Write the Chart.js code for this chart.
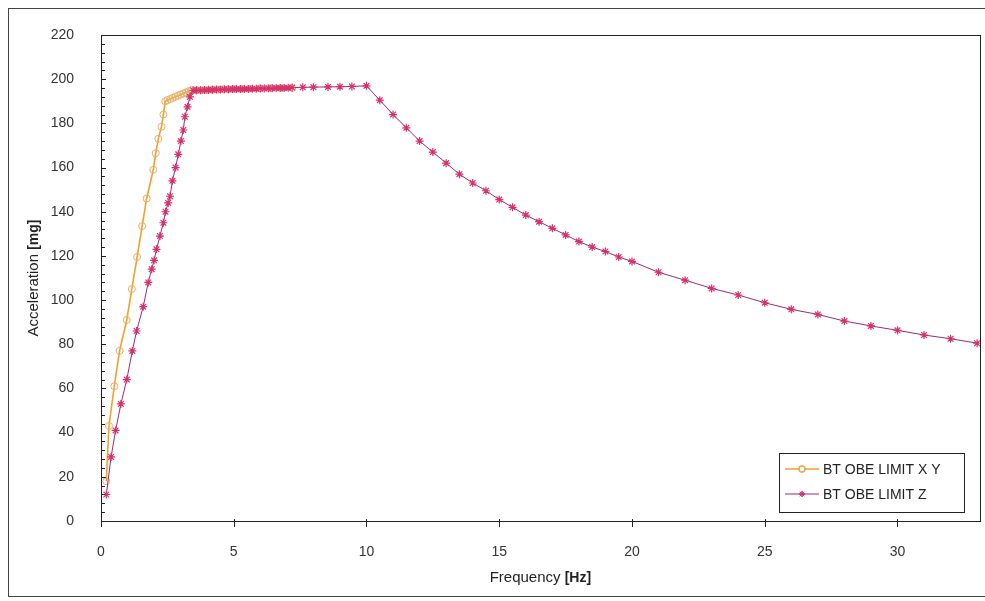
<!DOCTYPE html>
<html>
<head>
<meta charset="utf-8">
<script src="https://cdn.jsdelivr.net/npm/chart.js@4.4.1/dist/chart.umd.min.js"></script>
<style>
  html, body { margin: 0; padding: 0; background: #fff; }
  #wrap { width: 985px; height: 601px; }
</style>
</head>
<body>
<div id="wrap"><canvas id="myChart" width="985" height="601"></canvas></div>
<script>
// BT OBE LIMIT X Y
var xyFreq  = [0.2, 0.3, 0.5, 0.7, 0.97, 1.16, 1.36, 1.55, 1.72, 1.97, 2.06, 2.16, 2.28, 2.35, 2.42,
               2.5, 2.6, 2.7, 2.8, 2.9, 3.0, 3.1, 3.2, 3.3, 3.4, 3.6, 3.8, 4.0, 4.2, 4.4, 4.6, 4.8,
               5.0, 5.3, 5.6, 6.0, 6.4, 6.8, 7.2];
var xyAccel = [18, 43, 61, 77, 91, 105, 119.5, 133.5, 146, 159, 166.5, 173, 178.5, 184, 190,
               190.5, 191, 191.5, 192, 192.5, 193, 193.5, 194, 194.5, 195, 195, 195, 195, 195.2, 195.3, 195.4, 195.5,
               195.5, 195.6, 195.7, 195.8, 195.9, 196, 196];

// BT OBE LIMIT Z
var zFreq  = [0.2, 0.38, 0.55, 0.75, 0.97, 1.18, 1.34, 1.59, 1.78, 1.91, 2.0, 2.09, 2.22, 2.35, 2.43, 2.53,
              2.6, 2.69, 2.81, 2.91, 3.01, 3.1, 3.16, 3.26, 3.35, 3.47,
              3.6, 3.75, 3.9, 4.05, 4.2, 4.35, 4.5, 4.65, 4.8, 4.95, 5.1, 5.25, 5.4, 5.55, 5.7, 5.85,
              6.0, 6.15, 6.3, 6.45, 6.6, 6.75, 6.9, 7.05, 7.2, 7.6, 8.0, 8.55, 9.0, 9.45, 10.0,
              10.5, 11, 11.5, 12, 12.5, 13, 13.5, 14, 14.5, 15, 15.5, 16, 16.5, 17, 17.5, 18, 18.5, 19, 19.5, 20,
              21, 22, 23, 24, 25, 26, 27, 28, 29, 30, 31, 32, 33];
var zAccel = [12, 29, 41, 53, 64, 77, 86, 97, 108, 114, 118, 123, 129, 135, 140, 144,
              147, 154, 160, 166, 172, 177, 183, 187.5, 192, 195,
              195, 195, 195.1, 195.2, 195.2, 195.3, 195.3, 195.4, 195.4, 195.5, 195.5, 195.5, 195.6, 195.6, 195.7, 195.7,
              195.8, 195.8, 195.9, 195.9, 196, 196, 196, 196.1, 196.2, 196.3, 196.4, 196.5, 196.6, 196.7, 197,
              190.5, 184, 178, 172, 167, 162, 157, 153, 149.5, 145.5, 142, 138.5, 135.5, 132.5, 129.5, 126.5, 124, 122, 119.5, 117.5,
              112.6, 109, 105.3, 102.3, 98.8, 95.8, 93.5, 90.5, 88.3, 86.3, 84.2, 82.5, 80.5];

var xTickLabels = [0, 5, 10, 15, 20, 25, 30];
var yTickLabels = [0, 20, 40, 60, 80, 100, 120, 140, 160, 180, 200, 220];
var yMinorStep = 4;

function toPoints(xs, ys) {
	return xs.map(function (x, i) { return { x: x, y: ys[i] }; });
}

var fontFamily = '"Liberation Sans", Arial, sans-serif';

// frame, plot border, inward ticks, axis titles and legend
var decorations = {
	id: 'decorations',
	beforeDraw: function (chart) {
		var ctx = chart.ctx;
		ctx.save();
		ctx.fillStyle = '#fff';
		ctx.fillRect(0, 0, chart.width, chart.height);
		ctx.strokeStyle = '#444';
		ctx.lineWidth = 1;
		ctx.strokeRect(8.5, 8.5, 990, 588);
		ctx.restore();
	},
	afterDatasetsDraw: function (chart) {
		var ctx = chart.ctx;
		var a = chart.chartArea;
		var xs = chart.scales.x, ys = chart.scales.y;
		ctx.save();
		ctx.strokeStyle = '#222';
		ctx.lineWidth = 1;
		ctx.strokeRect(Math.round(a.left) + 0.5, Math.round(a.top) + 0.5,
			Math.round(a.right - a.left), Math.round(a.bottom - a.top));

		// y ticks, pointing inside
		ctx.beginPath();
		for (var v = 0; v <= 220; v += yMinorStep) {
			var py = Math.round(ys.getPixelForValue(v)) + 0.5;
			var len = (v % 20 === 0) ? 5 : 4;
			ctx.moveTo(a.left, py);
			ctx.lineTo(a.left + len, py);
		}
		// x ticks, pointing down
		xTickLabels.forEach(function (t) {
			var px = Math.round(xs.getPixelForValue(t)) + 0.5;
			ctx.moveTo(px, a.bottom - 2);
			ctx.lineTo(px, a.bottom + 6);
		});
		ctx.stroke();

		// axis titles with bold units
		ctx.fillStyle = '#222';
		ctx.textBaseline = 'middle';
		function mixed(parts, cx, cy) {
			var w = 0;
			parts.forEach(function (p) { ctx.font = p[1]; w += ctx.measureText(p[0]).width; });
			var x = cx - w / 2;
			ctx.textAlign = 'left';
			parts.forEach(function (p) { ctx.font = p[1]; ctx.fillText(p[0], x, cy); x += ctx.measureText(p[0]).width; });
		}
		mixed([['Frequency ', '15px ' + fontFamily], ['[Hz]', 'bold 14px ' + fontFamily]], (a.left + a.right) / 2 - 0, 578);
		ctx.save();
		ctx.translate(34, (a.top + a.bottom) / 2);
		ctx.rotate(-Math.PI / 2);
		mixed([['Acceleration ', '15px ' + fontFamily], ['[mg]', 'bold 14px ' + fontFamily]], 0, 0);
		ctx.restore();

		// legend box
		var lx = 779, ly = 453, lw = 185, lh = 59;
		ctx.fillStyle = '#fff';
		ctx.fillRect(lx, ly, lw, lh);
		ctx.strokeStyle = '#222';
		ctx.strokeRect(lx + 0.5, ly + 0.5, lw, lh);
		var rows = [
			{ text: 'BT OBE LIMIT X Y', ds: chart.data.datasets[1], y: ly + 16 },
			{ text: 'BT OBE LIMIT Z', ds: chart.data.datasets[0], y: ly + 41 }
		];
		rows.forEach(function (r) {
			ctx.beginPath();
			ctx.strokeStyle = r.ds.borderColor;
			ctx.lineWidth = r.ds.borderWidth;
			ctx.moveTo(lx + 6, r.y);
			ctx.lineTo(lx + 40, r.y);
			ctx.stroke();
			Chart.helpers.drawPoint(ctx, {
				pointStyle: r.ds.pointStyle, radius: 3, borderWidth: 1, rotation: 0
			}, lx + 23, r.y);
			ctx.lineWidth = 1;
			ctx.strokeStyle = r.ds.pointBorderColor;
			ctx.fillStyle = r.ds.pointBackgroundColor;
			Chart.helpers.drawPoint(ctx, { pointStyle: r.ds.pointStyle, radius: 3, borderWidth: 1, rotation: 0 }, lx + 23, r.y);
			ctx.fillStyle = '#222';
			ctx.font = '14px ' + fontFamily;
			ctx.textAlign = 'left';
			ctx.fillText(r.text, lx + 44, r.y + 1);
		});
		ctx.restore();
	}
};

var chart = new Chart(document.getElementById('myChart'), {
	type: 'line',
	data: {
		datasets: [
			{
				label: 'BT OBE LIMIT Z',
				data: toPoints(zFreq, zAccel),
				borderColor: '#9a2a78',
				borderWidth: 1,
				pointStyle: 'star',
				pointRadius: 4,
				pointBorderColor: '#d8306c',
				pointBackgroundColor: '#d8306c',
				pointBorderWidth: 1.2,
				tension: 0,
				order: 0
			},
			{
				label: 'BT OBE LIMIT X Y',
				data: toPoints(xyFreq, xyAccel),
				borderColor: '#f0a030',
				borderWidth: 1.6,
				pointStyle: 'circle',
				pointRadius: 3.5,
				pointBorderColor: '#e8b068',
				pointBackgroundColor: 'rgba(255,255,255,0)',
				pointBorderWidth: 1,
				tension: 0,
				order: 1
			}
		]
	},
	options: {
		responsive: false,
		animation: false,
		layout: { padding: { left: 0, right: 5, top: 35, bottom: 0 } },
		plugins: {
			legend: { display: false },
			tooltip: { enabled: false }
		},
		scales: {
			x: {
				type: 'linear',
				min: 0,
				max: 33.1,
				grid: { display: false },
				border: { display: false },
				afterBuildTicks: function (scale) {
					scale.ticks = xTickLabels.map(function (v) { return { value: v }; });
				},
				afterFit: function (scale) { scale.height = 80; },
				ticks: {
					padding: 15,
					maxRotation: 0,
					color: '#333',
					font: { family: fontFamily, size: 14 }
				}
			},
			y: {
				type: 'linear',
				min: 0,
				max: 220,
				grid: { display: false },
				border: { display: false },
				afterBuildTicks: function (scale) {
					scale.ticks = yTickLabels.map(function (v) { return { value: v }; });
				},
				afterFit: function (scale) { scale.width = 101; },
				ticks: {
					padding: 19,
					color: '#333',
					font: { family: fontFamily, size: 14 }
				}
			}
		}
	},
	plugins: [decorations]
});
</script>
</body>
</html>
